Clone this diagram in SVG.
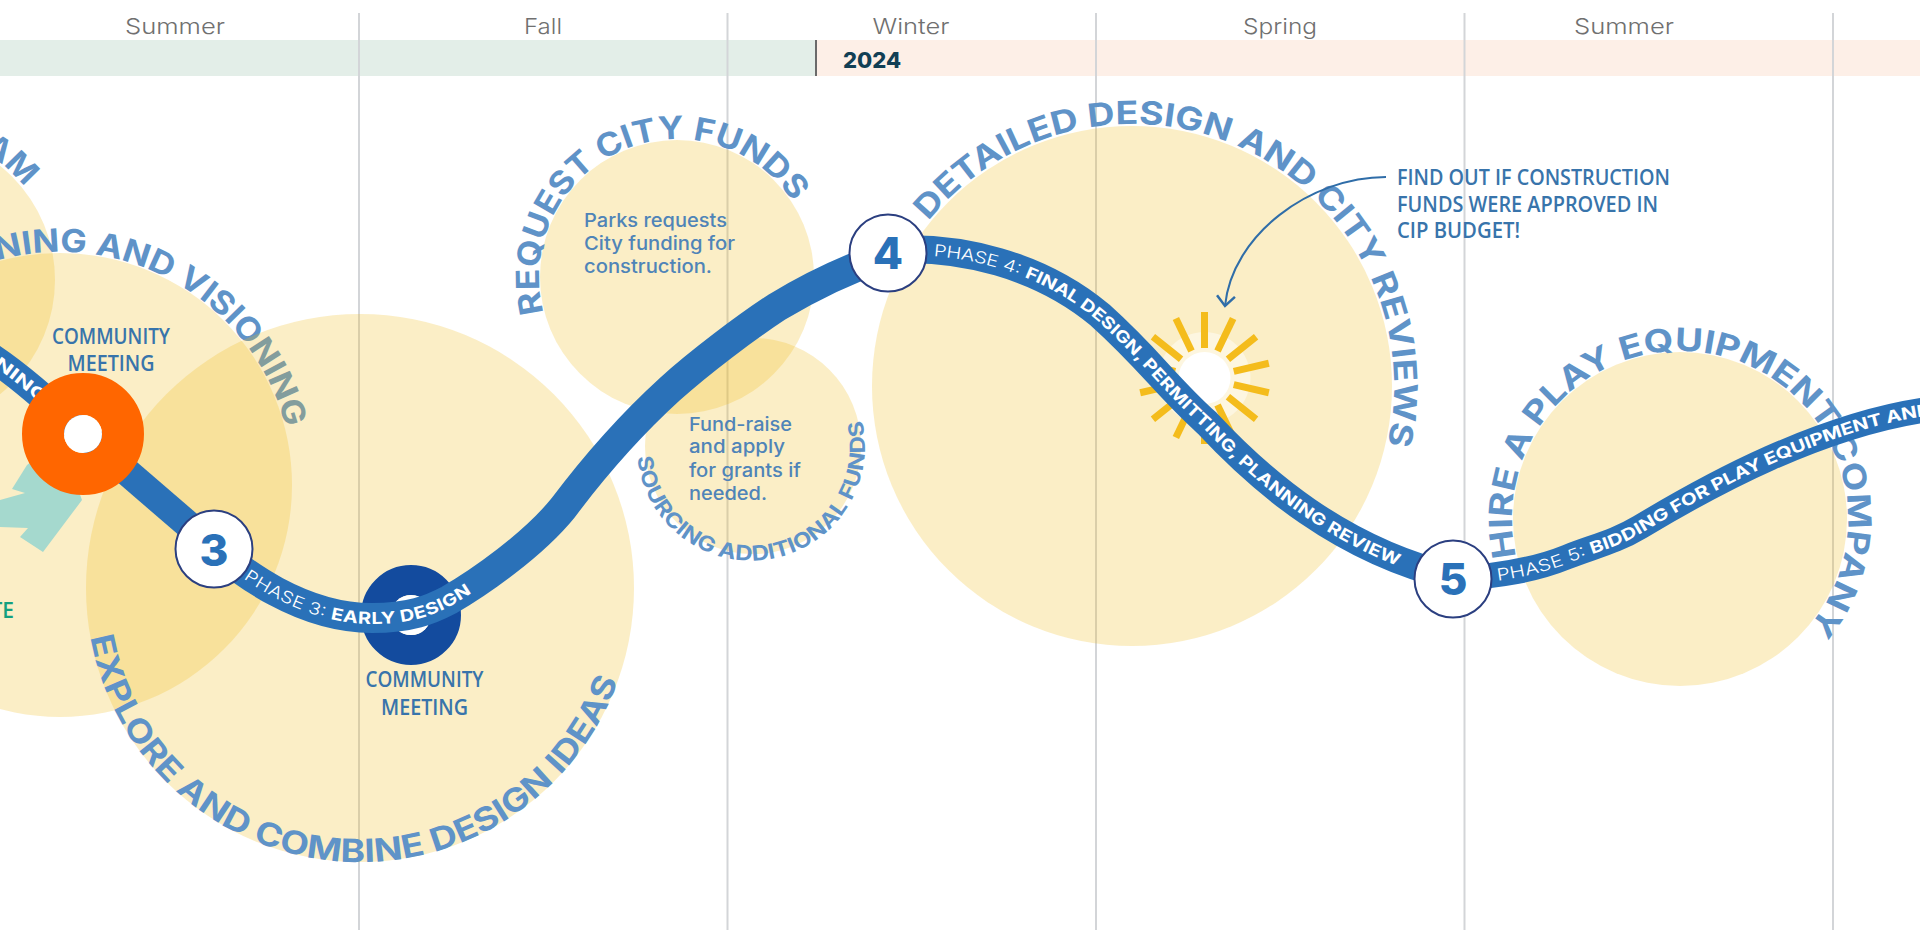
<svg xmlns="http://www.w3.org/2000/svg" xmlns:xlink="http://www.w3.org/1999/xlink" width="1920" height="937" viewBox="0 0 1920 937">
<style>
text{font-family:"Inter","Noto Sans","DejaVu Sans",sans-serif}
.season{font-size:22px;font-weight:300;fill:#707070;text-anchor:middle}
.grid{stroke:#d3d5d8;stroke-width:2;fill:none}
.zone{fill:#efbb1b;fill-opacity:.25}
.arc{font-size:32px;font-weight:700;fill:#5f93c8}
.small{font-size:21px}
.body{font-size:18.5px;font-weight:500;fill:#4f84b8}
.cond{font-family:"Open Sans","Noto Sans",sans-serif;font-size:21px;font-weight:600;fill:#3874ab}
.band{fill:none;stroke:#2a71b8;stroke-width:28}
.bt{font-size:16.5px;fill:#fff}
.lt{font-weight:300}
.bd{font-weight:700}
.node{fill:#fff;stroke:#2b3f80;stroke-width:2}
.num{font-size:44px;font-weight:800;fill:#2a71b8;text-anchor:middle}
.ray{stroke:#f4bc1c;stroke-width:7;fill:none}
</style>
<defs>
<path id="a0" d="M-18 151A148 148 0 0 1 23.3 185.8"/>
<path id="a1" d="M-3 260.6A233 233 0 0 1 285.8 427.5"/>
<path id="a2" d="M90.4 637A274 274 0 0 0 617.8 680.9"/>
<path id="a3" d="M543.7 312.7A138 138 0 0 1 792.7 201.8"/>
<path id="a4" d="M637.4 456.9A114 114 0 1 0 862.2 421.8"/>
<path id="a5" d="M928.4 221.1A262 262 0 0 1 1387.3 445"/>
<path id="a6" d="M1516.3 556.8A168 168 0 1 1 1808.7 627"/>
<path id="p2" d="M-15 353C20 375 60 412 83 434"/>
<path id="p3" d="M214 549C240 570 300 618 372 618C410 618 430 610 449 600C480 582 533 545 563 508C590 472 625 430 670 389C700 362 745 328 777 307C810 287 850 268 888 255"/>
<path id="p4" d="M888 250C960 245 1040 265 1100 315C1150 360 1165 385 1207 423C1260 480 1340 550 1453 577"/>
<path id="p5" d="M1453 579C1500 576 1535 570 1567 557C1595 546 1615 542 1640 527C1680 503 1725 478 1770 458C1820 436 1870 418 1925 410"/>
<marker id="open" markerWidth="30" markerHeight="30" refX="15" refY="15" orient="auto" markerUnits="userSpaceOnUse"><path d="M5 6L15 15L5 24" fill="none" stroke="#2f6da8" stroke-width="2.5"/></marker>
</defs>
<rect width="1920" height="937" fill="#fff"/>
<g id="timeline">
<rect x="0" y="40" width="816" height="36" fill="#e3eee8"/>
<rect x="816" y="40" width="1104" height="36" fill="#fdefe7"/>
<path class="grid" d="M359 13V930M727.5 13V930M1096 13V930M1464.5 13V930M1833 13V930"/>
<path d="M816 40V76" stroke="#6a6a6a" stroke-width="2"/>
<text class="season" x="175" y="34" textLength="100" lengthAdjust="spacingAndGlyphs">Summer</text>
<text class="season" x="543" y="34" textLength="38" lengthAdjust="spacingAndGlyphs">Fall</text>
<text class="season" x="911" y="34" textLength="77" lengthAdjust="spacingAndGlyphs">Winter</text>
<text class="season" x="1280" y="34" textLength="74" lengthAdjust="spacingAndGlyphs">Spring</text>
<text class="season" x="1624" y="34" textLength="100" lengthAdjust="spacingAndGlyphs">Summer</text>
<text x="843" y="68" font-size="22" font-weight="800" fill="#123f55">2024</text>
</g>
<g id="zone-program"><circle class="zone" cx="-91" cy="280" r="146"/><text class="arc"><textPath href="#a0" textLength="56" lengthAdjust="spacingAndGlyphs">AM</textPath></text></g>
<g id="zone-planning"><circle class="zone" cx="60" cy="485" r="232"/><text class="arc"><textPath href="#a1" textLength="372" lengthAdjust="spacingAndGlyphs">NING AND VISIONING</textPath></text></g>
<g id="zone-explore"><circle class="zone" cx="360" cy="588" r="274"/><text class="arc"><textPath href="#a2" textLength="717" lengthAdjust="spacingAndGlyphs">EXPLORE AND COMBINE DESIGN IDEAS</textPath></text></g>
<g id="zone-request"><circle class="zone" cx="677" cy="277" r="137"/><text class="arc"><textPath href="#a3" textLength="390" lengthAdjust="spacingAndGlyphs">REQUEST CITY FUNDS</textPath></text>
<text class="body" x="584" y="227" textLength="143" lengthAdjust="spacingAndGlyphs">Parks requests</text>
<text class="body" x="584" y="250" textLength="151" lengthAdjust="spacingAndGlyphs">City funding for</text>
<text class="body" x="584" y="273" textLength="128" lengthAdjust="spacingAndGlyphs">construction.</text></g>
<g id="zone-sourcing"><circle class="zone" cx="753" cy="446" r="108"/><text class="arc small"><textPath href="#a4" textLength="374" lengthAdjust="spacingAndGlyphs">SOURCING ADDITIONAL FUNDS</textPath></text>
<text class="body" x="689" y="431" textLength="103" lengthAdjust="spacingAndGlyphs">Fund-raise</text>
<text class="body" x="689" y="453" textLength="96" lengthAdjust="spacingAndGlyphs">and apply</text>
<text class="body" x="689" y="477" textLength="112" lengthAdjust="spacingAndGlyphs">for grants if</text>
<text class="body" x="689" y="500" textLength="78" lengthAdjust="spacingAndGlyphs">needed.</text></g>
<g id="zone-detailed"><circle class="zone" cx="1132" cy="386" r="260"/><text class="arc"><textPath href="#a5" textLength="704" lengthAdjust="spacingAndGlyphs">DETAILED DESIGN AND CITY REVIEWS</textPath></text></g>
<g id="zone-hire"><circle class="zone" cx="1680" cy="519" r="167"/><text class="arc"><textPath href="#a6" textLength="683" lengthAdjust="spacingAndGlyphs">HIRE A PLAY EQUIPMENT COMPANY</textPath></text></g>
<g id="sun">
<circle cx="1204.5" cy="378" r="46" fill="#fff" fill-opacity=".45"/>
<circle cx="1204.5" cy="378" r="26" fill="#fff"/>
<g transform="translate(1204.5 378)">
<path class="ray" d="M0-30V-66"/>
<path class="ray" d="M0-30V-66" transform="rotate(25.7)"/>
<path class="ray" d="M0-30V-66" transform="rotate(51.4)"/>
<path class="ray" d="M0-30V-66" transform="rotate(77.1)"/>
<path class="ray" d="M0-30V-66" transform="rotate(102.9)"/>
<path class="ray" d="M0-30V-66" transform="rotate(128.6)"/>
<path class="ray" d="M0-30V-66" transform="rotate(154.3)"/>
<path class="ray" d="M0-30V-66" transform="rotate(180)"/>
<path class="ray" d="M0-30V-66" transform="rotate(205.7)"/>
<path class="ray" d="M0-30V-66" transform="rotate(231.4)"/>
<path class="ray" d="M0-30V-66" transform="rotate(257.1)"/>
<path class="ray" d="M0-30V-66" transform="rotate(282.9)"/>
<path class="ray" d="M0-30V-66" transform="rotate(308.6)"/>
<path class="ray" d="M0-30V-66" transform="rotate(334.3)"/>
</g>
</g>
<g id="site-arrow"><polygon points="0,500 25,493 12,489 27,465 60,440 82,500 43,552 20,537 28,528 0,527" fill="#a5d9ce"/>
<text x="14" y="618" text-anchor="end" font-size="21" font-weight="600" fill="#14a07f" style="font-family:'Open Sans'">TE</text></g>
<g id="meeting-2"><circle cx="411" cy="615" r="35" fill="none" stroke="#134b9e" stroke-width="30"/><circle cx="411" cy="615" r="20" fill="#fff"/>
<text class="cond" x="424.5" y="687" text-anchor="middle" textLength="118" lengthAdjust="spacingAndGlyphs">COMMUNITY</text>
<text class="cond" x="424.5" y="715" text-anchor="middle" textLength="87" lengthAdjust="spacingAndGlyphs">MEETING</text></g>
<g id="connectors">
<use href="#p2" class="band"/>
<path class="band" d="M83 434L214 547"/>
<use href="#p3" class="band" style="stroke-width:30"/>
<use href="#p4" class="band"/>
<use href="#p5" class="band" style="stroke-width:25"/>
<path d="M1386 177C1310 177 1232 235 1225 306" fill="none" stroke="#2f6da8" stroke-width="2" marker-end="url(#open)"/>
</g>
<g id="band-labels">
<text class="bt bd" dy="6"><textPath href="#p2" startOffset="14" textLength="62" lengthAdjust="spacingAndGlyphs">NING</textPath></text>
<text class="bt" dy="6"><textPath href="#p3" startOffset="41" textLength="238" lengthAdjust="spacingAndGlyphs"><tspan class="lt">PHASE 3: </tspan><tspan class="bd">EARLY DESIGN</tspan></textPath></text>
<text class="bt" dy="6"><textPath href="#p4" startOffset="46" textLength="572" lengthAdjust="spacingAndGlyphs"><tspan class="lt">PHASE 4: </tspan><tspan class="bd">FINAL DESIGN, PERMITTING, PLANNING REVIEW</tspan></textPath></text>
<text class="bt" dy="6"><textPath href="#p5" startOffset="44" textLength="468" lengthAdjust="spacingAndGlyphs"><tspan class="lt">PHASE 5: </tspan><tspan class="bd">BIDDING FOR PLAY EQUIPMENT AND</tspan></textPath></text>
</g>
<g id="meeting-1"><circle cx="83" cy="434" r="40" fill="none" stroke="#ff6600" stroke-width="42"/><circle cx="83" cy="434" r="19" fill="#fff"/>
<text class="cond" x="111" y="344" text-anchor="middle" textLength="118" lengthAdjust="spacingAndGlyphs">COMMUNITY</text>
<text class="cond" x="111" y="371" text-anchor="middle" textLength="87" lengthAdjust="spacingAndGlyphs">MEETING</text></g>
<g id="node-3"><circle class="node" cx="214" cy="549" r="38.5"/><text class="num" x="214" y="566">3</text></g>
<g id="node-4"><circle class="node" cx="888" cy="253" r="38.5"/><text class="num" x="888" y="269">4</text></g>
<g id="node-5"><circle class="node" cx="1453" cy="579" r="38.5"/><text class="num" x="1453" y="595">5</text></g>
<g id="callout">
<text class="cond" x="1397" y="185" textLength="273" lengthAdjust="spacingAndGlyphs">FIND OUT IF CONSTRUCTION</text>
<text class="cond" x="1397" y="212" textLength="261" lengthAdjust="spacingAndGlyphs">FUNDS WERE APPROVED IN</text>
<text class="cond" x="1397" y="238" textLength="123" lengthAdjust="spacingAndGlyphs">CIP BUDGET!</text>
</g>
</svg>
